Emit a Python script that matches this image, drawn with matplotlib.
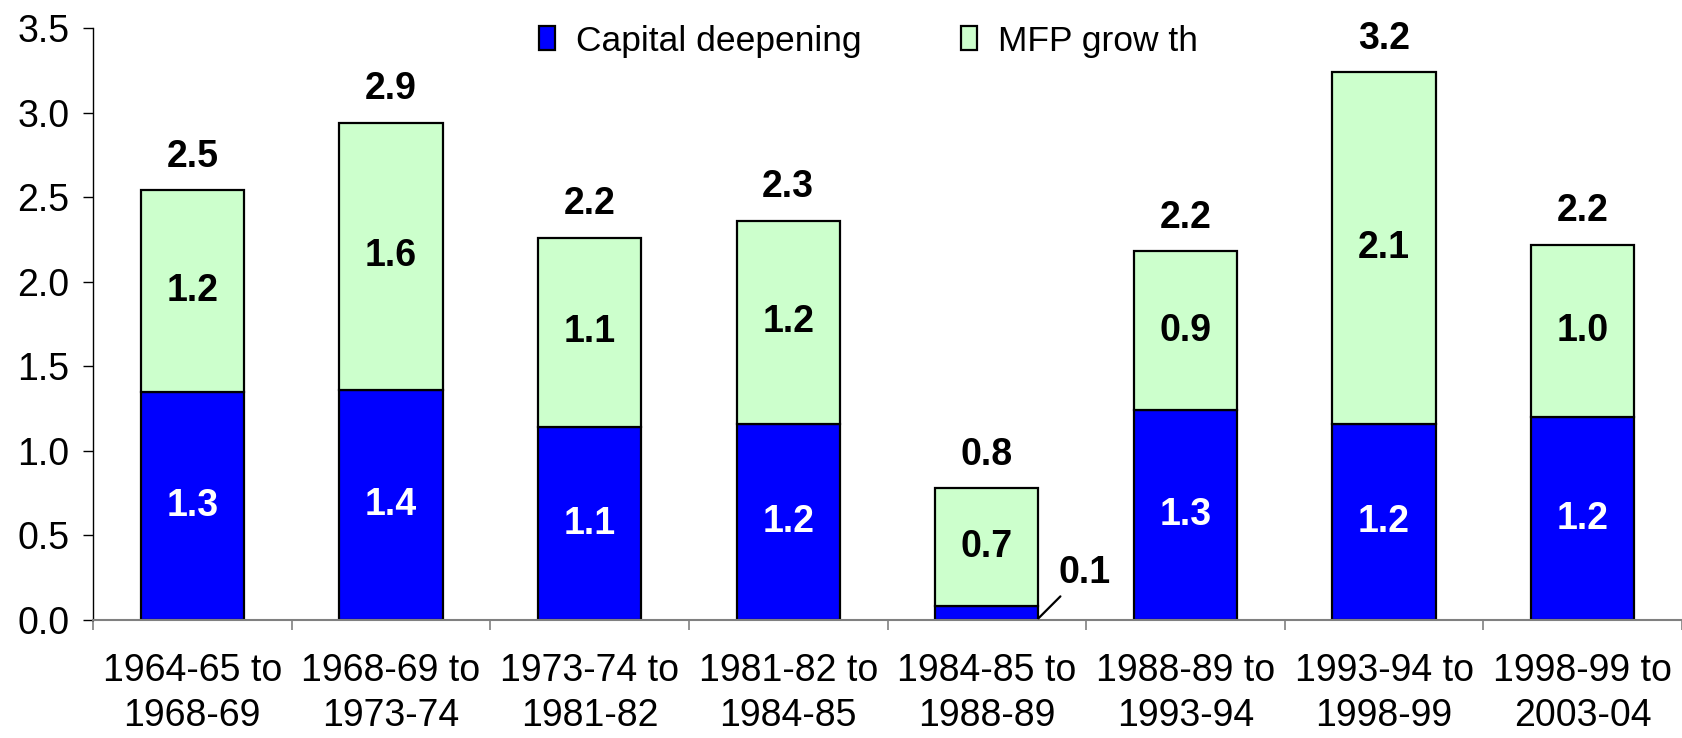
import matplotlib
matplotlib.use("Agg")
import matplotlib.pyplot as plt
import numpy as np

periods = [
    "1964-65 to\n1968-69",
    "1968-69 to\n1973-74",
    "1973-74 to\n1981-82",
    "1981-82 to\n1984-85",
    "1984-85 to\n1988-89",
    "1988-89 to\n1993-94",
    "1993-94 to\n1998-99",
    "1998-99 to\n2003-04",
]
capital = [1.35, 1.36, 1.14, 1.16, 0.08, 1.24, 1.16, 1.20]
mfp = [1.19, 1.58, 1.12, 1.20, 0.70, 0.94, 2.08, 1.02]
capital_labels = ["1.3", "1.4", "1.1", "1.2", "0.1", "1.3", "1.2", "1.2"]
mfp_labels = ["1.2", "1.6", "1.1", "1.2", "0.7", "0.9", "2.1", "1.0"]
total_labels = ["2.5", "2.9", "2.2", "2.3", "0.8", "2.2", "3.2", "2.2"]

plt.rcParams["font.family"] = ["Liberation Sans", "DejaVu Sans"]
FS = 27

fig = plt.figure(figsize=(16.82, 7.38), dpi=100)
ax = fig.add_axes([93 / 1682, 1 - 620 / 738, 1 - 93 / 1682, (620 - 28) / 738])

x = np.arange(len(periods))
w = 0.52
ax.bar(x, capital, w, color="#0000FF", edgecolor="black", linewidth=1.6,
       label="Capital deepening", zorder=2)
ax.bar(x, mfp, w, bottom=capital, color="#CCFFCC", edgecolor="black",
       linewidth=1.6, label="MFP grow th", zorder=2)

for i in range(len(periods)):
    tot = capital[i] + mfp[i]
    if i != 4:
        ax.text(x[i], capital[i] / 2, capital_labels[i], ha="center", va="center",
                fontsize=FS, fontweight="bold", color="white")
    ax.text(x[i], capital[i] + mfp[i] / 2, mfp_labels[i], ha="center", va="center",
            fontsize=FS, fontweight="bold", color="black")
    ax.annotate(total_labels[i], xy=(x[i], tot), xytext=(0, 24),
                textcoords="offset points", ha="center", va="center",
                fontsize=FS, fontweight="bold")

# small segment label with leader line
ax.annotate(capital_labels[4], xy=(4 + w / 2, 0.01), xytext=(4.49, 0.28),
            ha="center", va="center", fontsize=FS, fontweight="bold",
            arrowprops=dict(arrowstyle="-", color="black", lw=1.6,
                            shrinkA=3, shrinkB=0))

ax.set_xlim(-0.5, len(periods) - 0.5)
ax.set_ylim(0, 3.5)
ax.set_yticks(np.arange(0, 3.51, 0.5))
ax.set_yticklabels([f"{v:.1f}" for v in np.arange(0, 3.51, 0.5)], fontsize=FS)
ax.set_xticks(x)
ax.set_xticklabels(periods, fontsize=FS, linespacing=1.3)
ax.set_xticks(np.arange(-0.5, len(periods)), minor=True)
ax.tick_params(axis="x", which="major", length=0, pad=24)
ax.tick_params(axis="x", which="minor", length=7, color="#808080", width=1.2)
ax.tick_params(axis="y", length=7, width=1, color="black", pad=10)

for s in ["top", "right"]:
    ax.spines[s].set_visible(False)
ax.spines["left"].set_color("black")
ax.spines["left"].set_linewidth(1)
ax.spines["bottom"].set_color("#808080")
ax.spines["bottom"].set_linewidth(1.5)

ax.legend(loc="center", bbox_to_anchor=(0.488, 0.978), ncol=2, frameon=False,
          fontsize=25.5, handlelength=0.45, handleheight=0.65, handletextpad=0.6,
          columnspacing=2.8, borderpad=0)

fig.savefig("out.png", dpi=100)
